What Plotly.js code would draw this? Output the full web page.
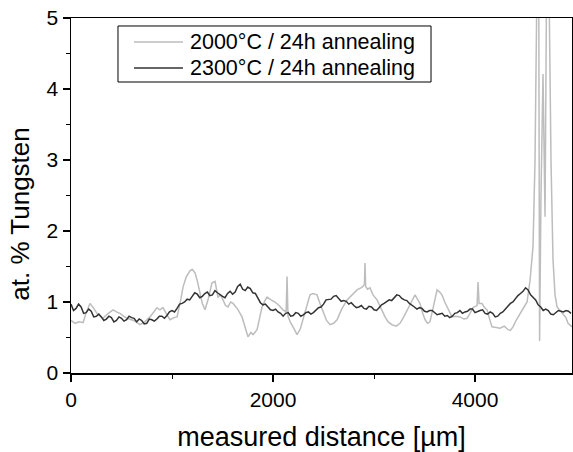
<!DOCTYPE html>
<html>
<head>
<meta charset="utf-8">
<script src="https://cdn.plot.ly/plotly-3.0.1.min.js"></script>
<style>html,body{margin:0;padding:0;background:#fff;}#chart{width:573px;height:452px;}</style>
</head>
<body>
<div id="chart"></div>
<script>
// 2000°C / 24h annealing (light grey)
const lightX = [0, 40, 80, 120, 150, 188, 220, 257, 290, 317, 360, 416, 450, 485, 520, 554, 620, 683, 730, 782, 820, 851, 880, 911, 950, 980, 1020, 1050, 1080, 1109, 1140, 1178, 1200, 1228, 1250, 1277, 1300, 1327, 1360, 1396, 1426, 1455, 1480, 1505, 1530, 1554, 1580, 1604, 1650, 1693, 1720, 1752, 1780, 1802, 1842, 1870, 1891, 1920, 1941, 1980, 2020, 2060, 2099, 2130, 2139, 2148, 2170, 2198, 2238, 2270, 2297, 2337, 2366, 2396, 2436, 2465, 2500, 2530, 2564, 2600, 2634, 2680, 2733, 2780, 2832, 2870, 2891, 2905, 2911, 2917, 2935, 2960, 2990, 3030, 3070, 3109, 3140, 3178, 3220, 3257, 3290, 3327, 3370, 3406, 3430, 3455, 3480, 3505, 3530, 3554, 3590, 3624, 3650, 3673, 3700, 3723, 3750, 3772, 3810, 3851, 3890, 3921, 3950, 3980, 4020, 4030, 4040, 4069, 4095, 4119, 4140, 4168, 4210, 4248, 4290, 4327, 4350, 4376, 4410, 4446, 4480, 4515, 4545, 4574, 4594, 4614, 4629, 4639, 4653, 4673, 4693, 4713, 4733, 4752, 4772, 4792, 4812, 4840, 4871, 4900, 4921, 4960];
const lightY = [0.74, 0.70, 0.72, 0.71, 0.85, 0.98, 0.92, 0.84, 0.80, 0.77, 0.83, 0.89, 0.86, 0.84, 0.80, 0.77, 0.74, 0.68, 0.72, 0.79, 0.86, 0.92, 0.89, 0.92, 0.82, 0.75, 0.78, 0.79, 0.98, 1.21, 1.35, 1.44, 1.46, 1.41, 1.30, 1.12, 0.98, 0.89, 1.05, 1.27, 1.29, 1.07, 1.10, 1.03, 0.95, 0.93, 1.00, 0.98, 0.90, 0.79, 0.66, 0.51, 0.57, 0.54, 0.61, 0.78, 0.93, 1.02, 1.07, 1.03, 1.00, 0.95, 0.89, 0.86, 1.36, 0.80, 0.72, 0.65, 0.54, 0.62, 0.75, 0.96, 1.10, 1.12, 1.10, 0.98, 0.85, 0.74, 0.68, 0.70, 0.75, 0.90, 1.03, 1.10, 1.17, 1.20, 1.22, 1.25, 1.55, 1.22, 1.18, 1.20, 1.10, 1.03, 0.90, 0.79, 0.72, 0.68, 0.66, 0.70, 0.78, 0.89, 1.00, 1.10, 1.05, 0.98, 0.85, 0.75, 0.70, 0.72, 0.95, 1.17, 1.14, 1.10, 1.00, 0.93, 0.85, 0.79, 0.80, 0.79, 0.76, 0.77, 0.84, 0.92, 0.95, 1.28, 0.98, 0.98, 0.92, 0.89, 0.78, 0.65, 0.64, 0.63, 0.66, 0.61, 0.60, 0.65, 0.75, 0.84, 0.92, 1.00, 1.31, 1.78, 3.00, 5.60, 6.50, 0.45, 2.50, 4.21, 2.20, 6.50, 5.40, 3.00, 1.60, 1.10, 0.93, 0.88, 0.84, 0.78, 0.70, 0.65];

// 2300°C / 24h annealing (dark grey)
const darkX = [0, 25, 50, 75, 100, 125, 150, 175, 200, 225, 250, 275, 300, 325, 350, 375, 400, 425, 450, 475, 500, 525, 550, 575, 600, 625, 650, 675, 700, 725, 750, 775, 800, 825, 850, 875, 900, 925, 950, 975, 1000, 1025, 1050, 1075, 1100, 1125, 1150, 1175, 1200, 1225, 1250, 1275, 1300, 1325, 1350, 1375, 1400, 1425, 1450, 1475, 1500, 1525, 1550, 1575, 1600, 1625, 1650, 1675, 1700, 1725, 1750, 1775, 1800, 1825, 1850, 1875, 1900, 1925, 1950, 1975, 2000, 2025, 2050, 2075, 2100, 2125, 2150, 2175, 2200, 2225, 2250, 2275, 2300, 2325, 2350, 2375, 2400, 2425, 2450, 2475, 2500, 2525, 2550, 2575, 2600, 2625, 2650, 2675, 2700, 2725, 2750, 2775, 2800, 2825, 2850, 2875, 2900, 2925, 2950, 2975, 3000, 3025, 3050, 3075, 3100, 3125, 3150, 3175, 3200, 3225, 3250, 3275, 3300, 3325, 3350, 3375, 3400, 3425, 3450, 3475, 3500, 3525, 3550, 3575, 3600, 3625, 3650, 3675, 3700, 3725, 3750, 3775, 3800, 3825, 3850, 3875, 3900, 3925, 3950, 3975, 4000, 4025, 4050, 4075, 4100, 4125, 4150, 4175, 4200, 4225, 4250, 4275, 4300, 4325, 4350, 4375, 4400, 4425, 4450, 4475, 4500, 4525, 4550, 4575, 4600, 4625, 4650, 4675, 4700, 4725, 4750, 4775, 4800, 4825, 4850, 4875, 4900, 4925, 4950];
const darkY = [0.97, 0.88, 0.91, 0.97, 0.93, 0.84, 0.85, 0.90, 0.87, 0.79, 0.80, 0.83, 0.79, 0.74, 0.76, 0.80, 0.78, 0.72, 0.74, 0.79, 0.77, 0.73, 0.75, 0.80, 0.78, 0.77, 0.72, 0.76, 0.74, 0.69, 0.70, 0.76, 0.75, 0.73, 0.76, 0.80, 0.80, 0.77, 0.81, 0.86, 0.88, 0.86, 0.91, 0.97, 0.98, 1.00, 1.04, 1.03, 1.08, 1.13, 1.11, 1.06, 1.08, 1.12, 1.14, 1.09, 1.10, 1.16, 1.13, 1.10, 1.08, 1.06, 1.12, 1.15, 1.11, 1.14, 1.22, 1.25, 1.18, 1.16, 1.21, 1.19, 1.13, 1.12, 1.06, 0.99, 0.96, 0.97, 0.93, 0.89, 0.88, 0.90, 0.86, 0.84, 0.80, 0.84, 0.85, 0.80, 0.81, 0.85, 0.84, 0.80, 0.82, 0.85, 0.86, 0.83, 0.85, 0.88, 0.92, 0.93, 0.97, 1.03, 1.04, 1.04, 1.08, 1.09, 1.05, 1.01, 1.02, 1.01, 0.97, 0.99, 0.95, 0.92, 0.93, 0.95, 0.91, 0.90, 0.94, 0.93, 0.89, 0.88, 0.92, 0.96, 0.98, 1.01, 1.03, 1.02, 1.06, 1.10, 1.09, 1.05, 1.03, 1.02, 0.98, 0.96, 0.93, 0.90, 0.92, 0.91, 0.87, 0.86, 0.88, 0.88, 0.85, 0.82, 0.83, 0.84, 0.80, 0.81, 0.78, 0.80, 0.84, 0.85, 0.88, 0.84, 0.86, 0.87, 0.90, 0.90, 0.85, 0.87, 0.88, 0.89, 0.84, 0.83, 0.86, 0.84, 0.79, 0.80, 0.84, 0.86, 0.90, 0.95, 0.98, 1.00, 1.05, 1.09, 1.12, 1.15, 1.20, 1.17, 1.10, 1.07, 1.03, 0.96, 0.93, 0.88, 0.90, 0.88, 0.83, 0.82, 0.85, 0.88, 0.87, 0.86, 0.88, 0.87, 0.84];

const seriesNames = ['2000°C / 24h annealing', '2300°C / 24h annealing'];
const seriesColors = ['#bdbdbd', '#333333'];

const font = 'Arial, "Liberation Sans", sans-serif';

const traces = [
  {x: lightX, y: lightY, mode: 'lines', name: seriesNames[0], showlegend: false,
   line: {color: seriesColors[0], width: 1.5}},
  {x: darkX, y: darkY, mode: 'lines', name: seriesNames[1], showlegend: false,
   line: {color: seriesColors[1], width: 1.5}}
];

// legend drawn as shapes + text (paper coordinates)
const legX0 = 0.0938, legX1 = 0.7186, legY0 = 0.8197, legY1 = 0.9775;
const rowY = [0.9324, 0.8592];
const shapes = [
  {type: 'rect', xref: 'paper', yref: 'paper', x0: legX0, x1: legX1, y0: legY0, y1: legY1,
   line: {color: '#000', width: 1}, fillcolor: '#fff', layer: 'above'}
];
const annotations = [];
seriesNames.forEach((n, i) => {
  shapes.push({type: 'line', xref: 'paper', yref: 'paper', x0: 0.1257, x1: 0.2236, y0: rowY[i], y1: rowY[i],
    line: {color: seriesColors[i], width: 1.5}, layer: 'above'});
  annotations.push({xref: 'paper', yref: 'paper', x: 0.2335, y: rowY[i], xanchor: 'left', yanchor: 'middle',
    text: n, showarrow: false, font: {size: 21.5, family: font, color: '#000'}});
});
annotations.push({xref: 'paper', yref: 'paper', x: -0.101, y: 0.447, xanchor: 'center', yanchor: 'middle',
  text: 'at. % Tungsten', textangle: -90, showarrow: false, font: {size: 26, family: font, color: '#000'}});

const layout = {
  width: 573, height: 452,
  margin: {l: 71, r: 1, t: 18, b: 79},
  paper_bgcolor: '#fff', plot_bgcolor: '#fff',
  font: {family: font, color: '#000'},
  showlegend: false,
  shapes: shapes,
  annotations: annotations,
  xaxis: {range: [0, 4960], tickvals: [0, 2000, 4000], ticktext: ['0', '2000', '4000'],
    showgrid: false, zeroline: false, showline: true, linecolor: '#000', linewidth: 1.5,
    mirror: true, ticks: 'outside', ticklen: 7, tickwidth: 1.5, tickcolor: '#000',
    minor: {tickvals: [1000, 3000], ticks: 'outside', ticklen: 4, tickwidth: 1, tickcolor: '#000'},
    tickfont: {size: 21, family: font},
    title: {text: 'measured distance [µm]', font: {size: 27, family: font}, standoff: 17}},
  yaxis: {range: [0, 5], dtick: 1, tick0: 0,
    showgrid: false, zeroline: false, showline: true, linecolor: '#000', linewidth: 1.5,
    mirror: true, ticks: 'outside', ticklen: 7, tickwidth: 1.5, tickcolor: '#000',
    minor: {dtick: 0.5, ticks: 'outside', ticklen: 4, tickwidth: 1, tickcolor: '#000'},
    tickfont: {size: 21, family: font}}
};

Plotly.newPlot('chart', traces, layout, {displayModeBar: false, staticPlot: true});
</script>
</body>
</html>
